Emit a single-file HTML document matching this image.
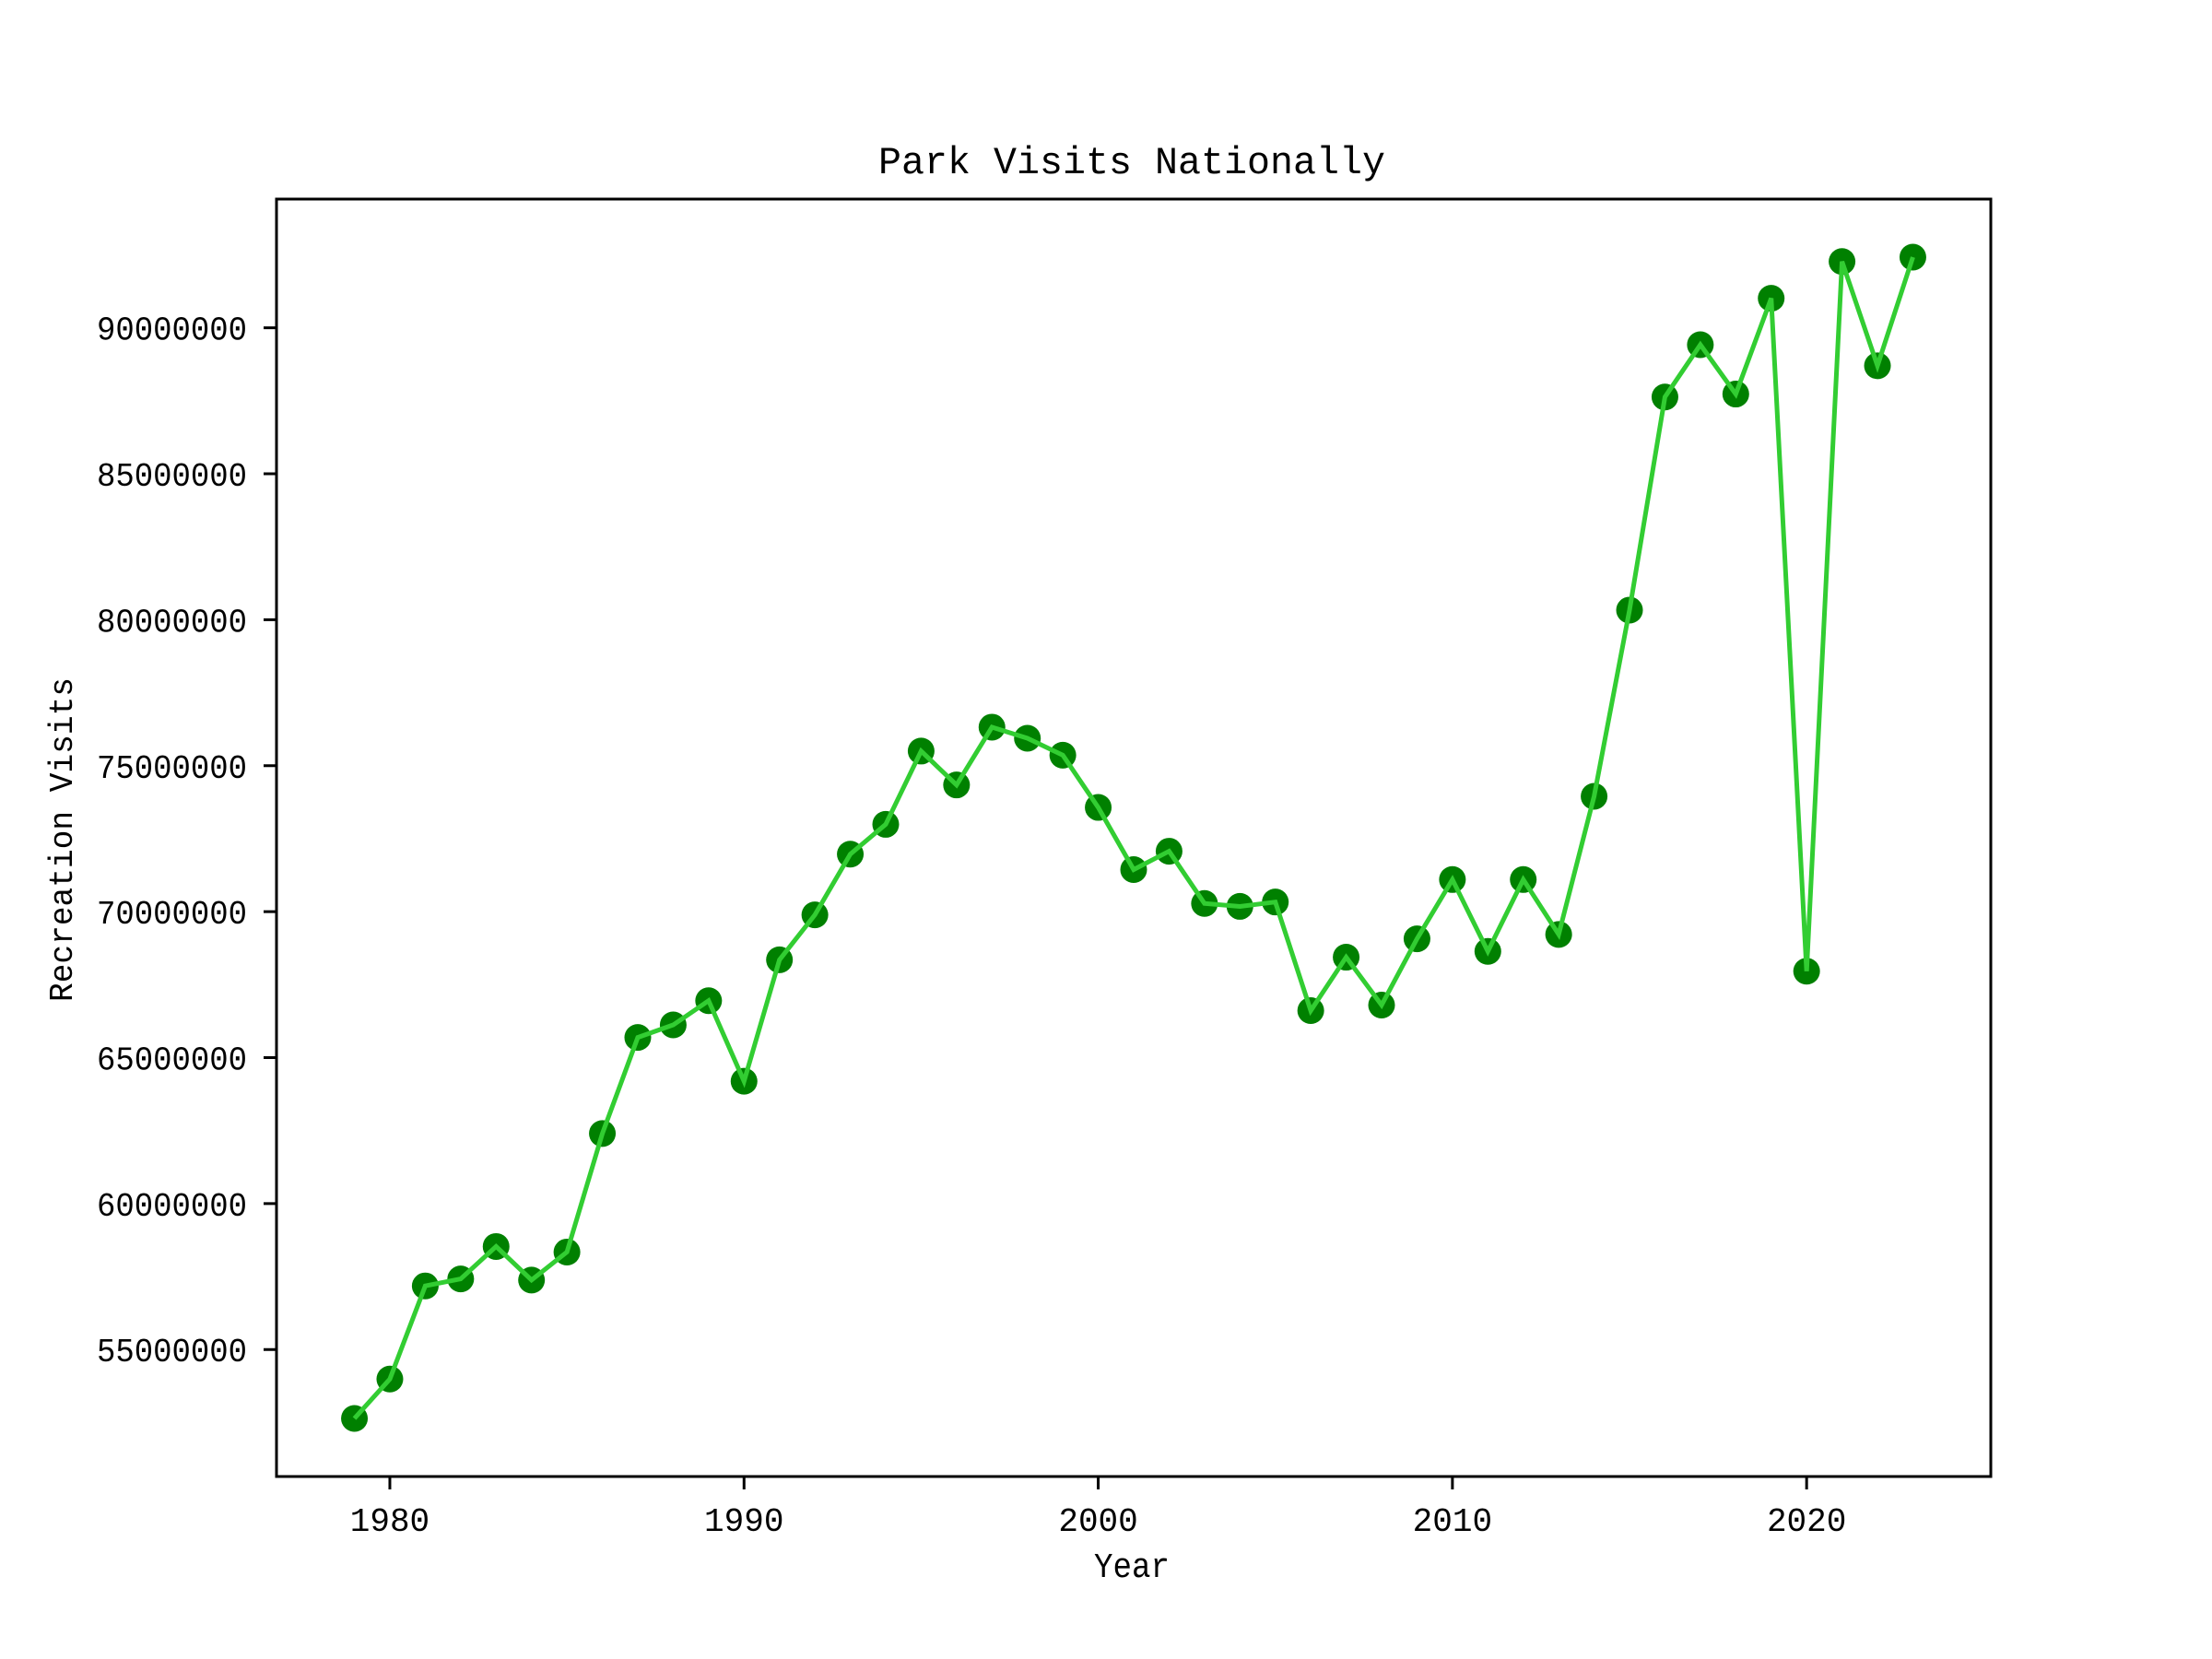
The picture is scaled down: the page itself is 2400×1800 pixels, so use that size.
<!DOCTYPE html>
<html><head><meta charset="utf-8"><style>html,body{margin:0;padding:0;background:#fff}svg{display:block}</style></head>
<body>
<svg id="chart" width="2400" height="1800" viewBox="0 0 2400 1800" xmlns="http://www.w3.org/2000/svg" font-family="Liberation Mono, DejaVu Sans Mono, monospace">
<rect x="0" y="0" width="2400" height="1800" fill="#fff"/>
<text x="1228" y="188" font-size="42" text-anchor="middle" textLength="550" lengthAdjust="spacingAndGlyphs">Park Visits Nationally</text>
<text x="1228" y="1711" font-size="38" text-anchor="middle" textLength="82" lengthAdjust="spacingAndGlyphs">Year</text>
<text x="0" y="0" font-size="36" text-anchor="middle" textLength="352" lengthAdjust="spacingAndGlyphs" transform="translate(78,911) rotate(-90)">Recreation Visits</text>
<g id="ticks"></g>
<g id="marks"></g>
<rect x="300" y="216" width="1860" height="1386" fill="none" stroke="#000" stroke-width="3"/>
</svg>
<script>
const years = [1979,1980,1981,1982,1983,1984,1985,1986,1987,1988,1989,1990,1991,1992,1993,1994,1995,1996,1997,1998,1999,2000,2001,2002,2003,2004,2005,2006,2007,2008,2009,2010,2011,2012,2013,2014,2015,2016,2017,2018,2019,2020,2021,2022,2023];
const visits = [52.64,53.99,57.18,57.42,58.53,57.38,58.34,62.40,65.69,66.12,66.95,64.19,68.35,69.89,71.97,72.99,75.50,74.34,76.32,75.94,75.36,73.57,71.44,72.07,70.28,70.18,70.33,66.61,68.44,66.80,69.07,71.10,68.64,71.10,69.22,73.95,80.33,87.63,89.42,87.73,91.01,67.96,92.27,88.70,92.42];
const xTicks = [1980,1990,2000,2010,2020];
const yTicks = [55,60,65,70,75,80,85,90];
const yTickLabels = ["55000000","60000000","65000000","70000000","75000000","80000000","85000000","90000000"];

const L=300,R=2160,T=216,B=1602;
const xmin=Math.min(...years), xmax=Math.max(...years), xm=(xmax-xmin)*0.05;
const ymin=Math.min(...visits), ymax=Math.max(...visits), ym=(ymax-ymin)*0.05;
const x=v=>L+(v-(xmin-xm))/((xmax+xm)-(xmin-xm))*(R-L);
const y=v=>B-(v-(ymin-ym))/((ymax+ym)-(ymin-ym))*(B-T);
const NS='http://www.w3.org/2000/svg';
const ticks=document.getElementById('ticks'), marks=document.getElementById('marks');
function mk(tag,attrs,parent){const e=document.createElementNS(NS,tag);for(const k in attrs)e.setAttribute(k,attrs[k]);parent.appendChild(e);return e;}
xTicks.forEach(t=>{
  const l=mk('line',{x1:x(t),x2:x(t),y1:B,y2:B+14,stroke:'#000','stroke-width':3},ticks);
  
  
  const tx=mk('text',{x:x(t),y:1661,'font-size':36,'text-anchor':'middle'},ticks);
  tx.textContent=String(t);
  
  
});
yTicks.forEach((t,i)=>{
  const l=mk('line',{x1:L-14,x2:L,y1:y(t),y2:y(t),stroke:'#000','stroke-width':3},ticks);
  
  
  const tx=mk('text',{x:268,y:y(t)+13,'font-size':36,'text-anchor':'end',textLength:163,lengthAdjust:'spacingAndGlyphs'},ticks);
  tx.textContent=yTickLabels[i];
  
  
});
years.forEach((yr,i)=>{
  const c=mk('circle',{cx:x(yr),cy:y(visits[i]),r:14.5,fill:'#008000'},marks);
  
  
});
const p=mk('polyline',{points:years.map((yr,i)=>x(yr)+','+y(visits[i])).join(' '),fill:'none',stroke:'#32cd32','stroke-width':5,'stroke-linejoin':'miter'},marks);


</script>
</body></html>
